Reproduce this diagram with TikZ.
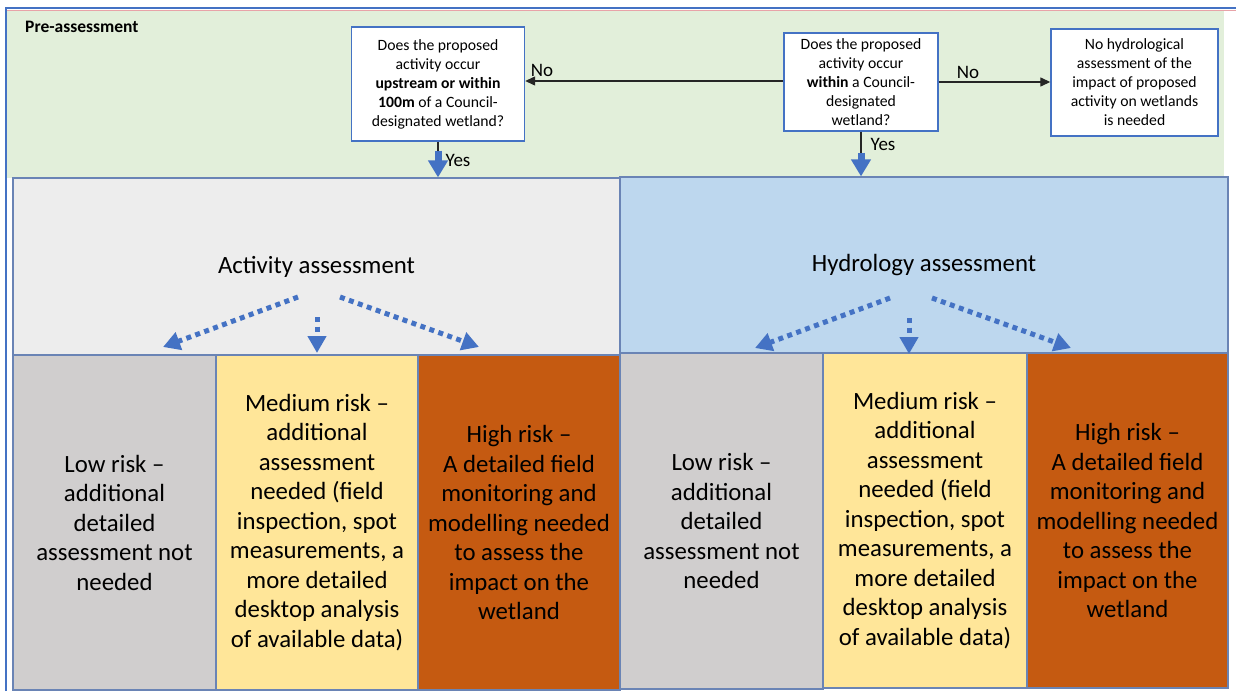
\documentclass[tikz,border=0pt]{standalone}
\usepackage{fontspec}
\setmainfont{Carlito}
\usetikzlibrary{arrows.meta}
\usetikzlibrary{calc}

\definecolor{preGreen}{HTML}{E2EFDA}
\definecolor{actGrey}{HTML}{EDEDED}
\definecolor{hydBlue}{HTML}{BDD7EE}
\definecolor{lowGrey}{HTML}{D0CECE}
\definecolor{medYellow}{HTML}{FFE699}
\definecolor{highOrange}{HTML}{C55A11}
\definecolor{edgeBlue}{HTML}{6A84B5}
\definecolor{lineBlue}{HTML}{4472C4}
\definecolor{pinkLine}{HTML}{E8A3A8}
\definecolor{darkLine}{HTML}{262626}

\newcommand{\bigtext}{\fontsize{24.8pt}{29.5pt}\selectfont}
\newcommand{\smalltext}{\fontsize{15.7pt}{19pt}\selectfont}
\newcommand{\tagtext}{\fontsize{19pt}{22pt}\selectfont}

\begin{document}
\begin{tikzpicture}[x=1pt, y=-1pt,
    stage/.style={rectangle, draw=edgeBlue, line width=1.2pt, inner sep=0pt, font=\bigtext},
    risk/.style={stage, align=center},
    question/.style={rectangle, draw=lineBlue, line width=1.4pt, fill=white, inner sep=0pt, align=center, font=\smalltext},
    tag/.style={font=\tagtext, inner sep=1pt},
    noarrow/.style={draw=darkLine, line width=1.3pt, -{Triangle[length=10pt, width=9pt]}},
    yesline/.style={draw=darkLine, line width=1.3pt},
    yesarrow/.style={draw=lineBlue, line width=7pt, -{Triangle[length=17pt, width=19pt]}},
    dotarrow/.style={draw=lineBlue, line width=5pt, dash pattern=on 5pt off 4.5pt, -{Triangle[length=17pt, width=18pt]}}]
  \useasboundingbox (0,0) rectangle (1236,691);

  % pre-assessment band
  \node[fill=preGreen, minimum width=1217pt, minimum height=168pt, inner sep=0pt] (pre) at (615.5,94) {};
  \node[anchor=west, font=\bfseries\fontsize{17.5pt}{20pt}\selectfont, inner sep=0pt] (pretitle) at (25,27) {Pre-assessment};
  \draw[pinkLine, line width=0.8pt] (7,10) -- (1236,10);
  \draw[lineBlue, line width=1.5pt] (6,691) -- (6,8) -- (1236,8);

  \node[question, minimum width=173pt, minimum height=114pt] (q1) at (438,84)
    {Does the proposed\\activity occur\\\textbf{upstream or within}\\\textbf{100m} of a Council-\\designated wetland?};
  \node[question, minimum width=154pt, minimum height=98pt] (q2) at (861,82)
    {Does the proposed\\activity occur\\\textbf{within} a Council-\\designated\\wetland?};
  \node[question, minimum width=167pt, minimum height=107pt] (none) at (1134.5,82.5)
    {No hydrological\\assessment of the\\impact of proposed\\activity on wetlands\\is needed};

  \draw[noarrow] ([yshift=1pt]q2.west) -- ([yshift=1pt]q2.west -| q1.east);
  \draw[noarrow] (q2.east) -- (q2.east -| none.west);
  \node[tag] (noA) at (542,70) {No};
  \node[tag] (noB) at (968,72) {No};

  % assessment stages
  \node[stage, fill=actGrey, minimum width=607pt, minimum height=177pt] (act) at (316.5,266.5) {Activity assessment};
  \node[stage, fill=hydBlue, minimum width=608pt, minimum height=176pt] (hyd) at (924,265) {Hydrology assessment};

  \coordinate (yesA) at ($(q1.south)+(0,9)$);
  \coordinate (yesB) at ($(q2.south)+(0,21)$);
  \draw[yesline] (q1.south) -- (yesA);
  \draw[yesarrow] (yesA) -- (yesA |- act.north);
  \draw[yesline] (q2.south) -- (yesB);
  \draw[yesarrow] (yesB) -- (yesB |- hyd.north);
  \node[tag] (yesAtag) at (458,160) {Yes};
  \node[tag] (yesBtag) at (883,144) {Yes};

  % risk levels
  \node[risk, fill=lowGrey, minimum width=203pt, minimum height=335pt] (lowA) at (114.5,522.5)
    {Low risk --\\additional\\detailed\\assessment not\\needed};
  \node[risk, fill=medYellow, minimum width=202pt, minimum height=335pt] (medA) at (317,522.5)
    {Medium risk --\\additional\\assessment\\needed (field\\inspection, spot\\measurements, a\\more detailed\\desktop analysis\\of available data)};
  \node[risk, fill=highOrange, minimum width=202pt, minimum height=335pt] (highA) at (519,522.5)
    {High risk --\\A detailed field\\monitoring and\\modelling needed\\to assess the\\impact on the\\wetland};

  \node[risk, fill=lowGrey, minimum width=203pt, minimum height=336pt] (lowH) at (721.5,521)
    {Low risk --\\additional\\detailed\\assessment not\\needed};
  \node[risk, fill=medYellow, minimum width=204pt, minimum height=335pt] (medH) at (925,520.5)
    {Medium risk --\\additional\\assessment\\needed (field\\inspection, spot\\measurements, a\\more detailed\\desktop analysis\\of available data)};
  \node[risk, fill=highOrange, minimum width=201pt, minimum height=335pt] (highH) at (1127.5,520.5)
    {High risk --\\A detailed field\\monitoring and\\modelling needed\\to assess the\\impact on the\\wetland};

  \coordinate (actfan) at (317,297);
  \coordinate (hydfan) at (909,298);
  \foreach \f in {actfan, hydfan} {
    \draw[dotarrow] ($(\f)+(-19,0)$) -- ($(\f)+(-154,50)$);
    \draw[dotarrow] ($(\f)+(0,20)$) -- ($(\f)+(0,56)$);
    \draw[dotarrow] ($(\f)+(23,0)$) -- ($(\f)+(162,50)$);
  }
\end{tikzpicture}
\end{document}
